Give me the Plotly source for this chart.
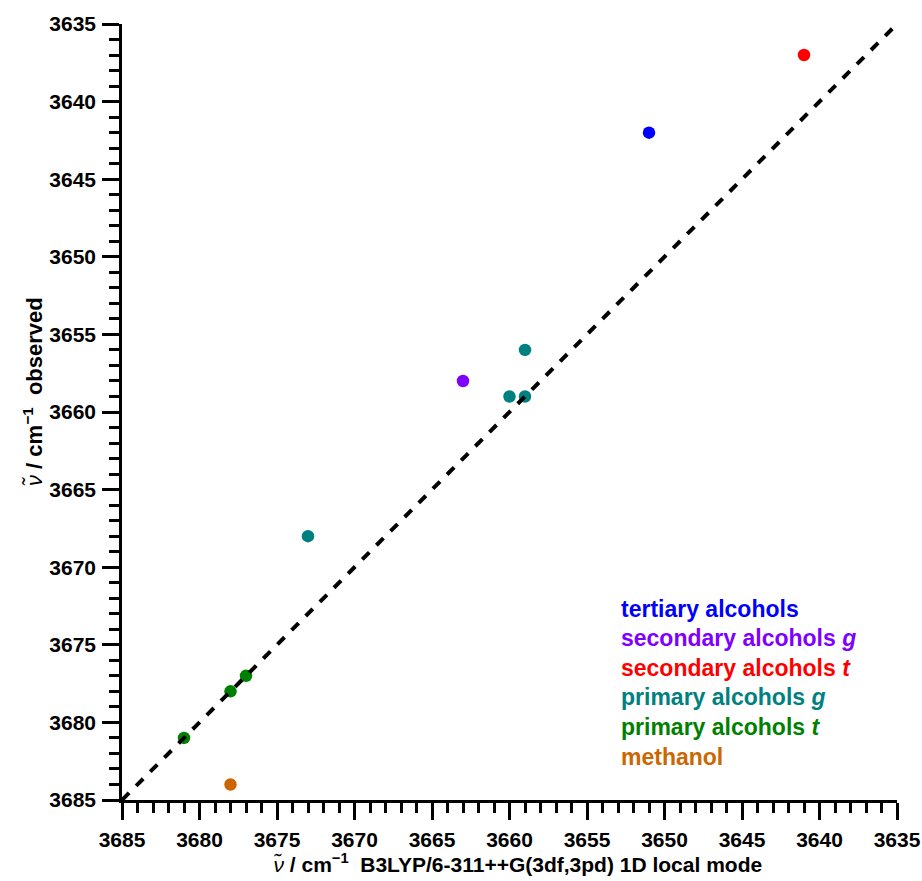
import plotly.graph_objects as go

# OH-stretch wavenumbers: calculated (1D local mode) vs observed, cm^-1
groups = ["tertiary alcohols", "secondary alcohols g", "secondary alcohols t",
          "primary alcohols g", "primary alcohols t", "methanol"]
labels = ["tertiary alcohols", "secondary alcohols <i>g</i>", "secondary alcohols <i>t</i>",
          "primary alcohols <i>g</i>", "primary alcohols <i>t</i>", "methanol"]
colors = ["#0000FF", "#8000FF", "#FF0000", "#008080", "#008000", "#CC6600"]

calc = {
    "tertiary alcohols": [3651],
    "secondary alcohols g": [3663],
    "secondary alcohols t": [3641],
    "primary alcohols g": [3659, 3660, 3659, 3673],
    "primary alcohols t": [3677, 3678, 3681],
    "methanol": [3678],
}
observed = {
    "tertiary alcohols": [3642],
    "secondary alcohols g": [3658],
    "secondary alcohols t": [3637],
    "primary alcohols g": [3656, 3659, 3659, 3668],
    "primary alcohols t": [3677, 3678, 3681],
    "methanol": [3684],
}
diag = [3685, 3635]

FONT = "Liberation Sans, Arial, sans-serif"

# plot area in pixels
L, R, T, B = 122, 25, 24, 81
W, H = 922, 881
PW, PH = W - L - R, H - T - B

fig = go.Figure()
for g, c in zip(groups, colors):
    fig.add_trace(go.Scatter(
        x=calc[g], y=observed[g], mode="markers",
        marker=dict(size=12.5, color=c, line=dict(width=0)),
        showlegend=False, cliponaxis=False,
    ))

# y = x reference line, drawn over the points
fig.add_trace(go.Scatter(
    x=diag, y=diag, mode="lines",
    line=dict(color="black", width=4, dash="10px,10px"),
    showlegend=False,
))

# coloured key text
line_y = [609, 638, 668, 697, 727, 757]
for lab, c, yy in zip(labels, colors, line_y):
    fig.add_annotation(
        text=lab, xref="paper", yref="paper",
        x=(619 - L) / PW, y=(H - B - yy) / PH,
        xanchor="left", yanchor="middle", showarrow=False,
        font=dict(family=FONT, size=23, color=c, weight="bold"),
    )

nu = "<span style='font-weight:normal'><i>ν̃</i></span>"

# axis titles
fig.add_annotation(
    text=nu + " / cm<sup>−1</sup>&nbsp; B3LYP/6-311++G(3df,3pd) 1D local mode",
    xref="paper", yref="paper", x=(517 - L) / PW, y=(H - B - 863) / PH,
    xanchor="center", yanchor="middle", showarrow=False,
    font=dict(family=FONT, size=21, color="black", weight="bold"),
)
fig.add_annotation(
    text=nu + " / cm<sup>−1</sup>&nbsp; observed",
    xref="paper", yref="paper", x=(33 - L) / PW, y=(H - B - 392) / PH,
    xanchor="center", yanchor="middle", showarrow=False,
    font=dict(family=FONT, size=22, color="black", weight="bold"),
    textangle=-90,
)

axis_common = dict(
    showgrid=False, zeroline=False, showline=True, linecolor="black", linewidth=2.5,
    ticks="outside", ticklen=17, tickwidth=2.5, tickcolor="black",
    dtick=5, tick0=3635,
    minor=dict(ticks="outside", ticklen=10, tickwidth=2.5, tickcolor="black", dtick=1, showgrid=False),
    tickfont=dict(family=FONT, size=21, color="black", weight="bold"),
    mirror=False,
)

fig.update_xaxes(range=[3685, 3635], ticklabelstandoff=2, **axis_common)
fig.update_yaxes(range=[3685, 3635], ticklabelstandoff=2, **axis_common)

fig.update_layout(
    width=W, height=H,
    margin=dict(l=L, r=R, t=T, b=B, autoexpand=False),
    plot_bgcolor="white", paper_bgcolor="white",
)

fig.write_html("out.html")
